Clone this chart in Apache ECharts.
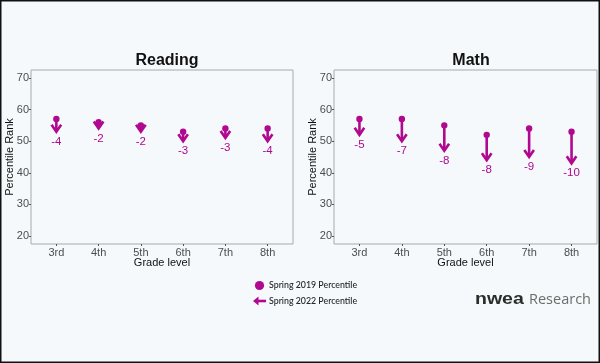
<!DOCTYPE html>
<html>
<head>
<meta charset="utf-8">
<script src="https://cdn.jsdelivr.net/npm/echarts@6/dist/echarts.min.js"></script>
<style>
html,body{margin:0;padding:0;background:#f5f9fc;}
#c{width:600px;height:363px;}
</style>
</head>
<body>
<div id="c"></div>
<script>
const grades = ['3rd','4th','5th','6th','7th','8th'];
const readingSpring2019 = [57,56,55,53,54,54];
const readingSpring2022 = [53,54,53,50,51,50];
const mathSpring2019 = [57,57,55,52,54,53];
const mathSpring2022 = [52,50,47,44,45,43];
const yTicks = [20,30,40,50,60,70];
const panelTitles = ['Reading','Math'];

const MAG = '#b0088e';
const FONT = '"Liberation Sans", Arial, sans-serif';

function buildData(a, b){
  return grades.map((g,i)=>[i+1, a[i], b[i]]);
}

function renderItem(params, api){
  const x = api.value(0), y1 = api.value(1), y2 = api.value(2);
  const p1 = api.coord([x,y1]);
  const p2 = api.coord([x,y2]);
  const diff = Math.round(y2 - y1);
  const style = {stroke: MAG, lineWidth: 2.6, fill: null, lineCap:'butt', lineJoin:'miter'};
  return {
    type:'group',
    children:[
      {type:'line', shape:{x1:p1[0], y1:p1[1], x2:p2[0], y2:p2[1]-1}, style: style},
      {type:'polyline', shape:{points:[[p2[0]-4.8,p2[1]-7],[p2[0],p2[1]],[p2[0]+4.8,p2[1]-7]]}, style: style},
      {type:'circle', shape:{cx:p1[0], cy:p1[1], r:3.2}, style:{fill:MAG}},
      {type:'text', x:p2[0], y:p2[1]+10, style:{text:String(diff), fill:MAG, font:'11.5px '+FONT, align:'center', verticalAlign:'middle'}}
    ]
  };
}

function xAxisCfg(gi){
  return {
    type:'value', gridIndex:gi, min:0.4, max:6.6,
    name:'Grade level', nameLocation:'middle', nameGap:13.5, nameMoveOverlap:false,
    nameTextStyle:{color:'#111', fontSize:11, fontFamily:FONT},
    axisLine:{show:false}, splitLine:{show:false},
    axisTick:{show:true, length:2, lineStyle:{color:'#555'}, customValues:[1,2,3,4,5,6]},
    axisLabel:{color:'#4d4d4d', fontSize:11, fontFamily:FONT, margin:3,
      customValues:[1,2,3,4,5,6], formatter:v=>grades[Math.round(v)-1]}
  };
}
function yAxisCfg(gi){
  return {
    type:'value', gridIndex:gi, min:17.5, max:72.5,
    name:'Percentile Rank', nameLocation:'middle', nameGap:21, nameRotate:90, nameMoveOverlap:false,
    nameTextStyle:{color:'#111', fontSize:11, fontFamily:FONT, verticalAlign:'middle'},
    axisLine:{show:false}, splitLine:{show:false},
    axisTick:{show:true, length:2, lineStyle:{color:'#555'}, customValues:yTicks},
    axisLabel:{color:'#4d4d4d', fontSize:11, fontFamily:FONT, margin:2, customValues:yTicks}
  };
}

const chart = echarts.init(document.getElementById('c'), null, {renderer:'canvas'});
chart.setOption({
  backgroundColor:'#f5f9fc',
  animation:false,
  title:[
    {text:panelTitles[0], left:162, top:48, textAlign:'center', textStyle:{fontSize:16, fontWeight:'bold', color:'#111', fontFamily:FONT}},
    {text:panelTitles[1], left:466, top:48, textAlign:'center', textStyle:{fontSize:16, fontWeight:'bold', color:'#111', fontFamily:FONT}}
  ],
  grid:[
    {left:31, top:70, width:262, height:174, show:true, borderColor:'#a8a8a8', borderWidth:1, backgroundColor:'transparent'},
    {left:334, top:70, width:263, height:174, show:true, borderColor:'#a8a8a8', borderWidth:1, backgroundColor:'transparent'}
  ],
  xAxis:[xAxisCfg(0), xAxisCfg(1)],
  yAxis:[yAxisCfg(0), yAxisCfg(1)],
  series:[
    {type:'custom', name:'Reading', xAxisIndex:0, yAxisIndex:0, data:buildData(readingSpring2019, readingSpring2022), renderItem:renderItem, clip:false},
    {type:'custom', name:'Math', xAxisIndex:1, yAxisIndex:1, data:buildData(mathSpring2019, mathSpring2022), renderItem:renderItem, clip:false}
  ],
  graphic:[
    {type:'circle', shape:{cx:259.5, cy:285.5, r:4.6}, style:{fill:MAG}},
    {type:'text', x:269, y:285.5, style:{text:'Spring 2019 Percentile', fill:'#222', font:'500 8.8px Lato, "Liberation Sans", sans-serif', verticalAlign:'middle'}},
    {type:'line', shape:{x1:256, y1:301, x2:266, y2:301}, style:{stroke:MAG, lineWidth:2.6}},
    {type:'polygon', shape:{points:[[253,301],[258.5,296.5],[258.5,305.5]]}, style:{fill:MAG}},
    {type:'text', x:269, y:301, style:{text:'Spring 2022 Percentile', fill:'#222', font:'500 8.8px Lato, "Liberation Sans", sans-serif', verticalAlign:'middle'}},
    {type:'text', x:475, y:300, scaleX:1.22, style:{text:'nwea', fill:'#2a2e2b', font:'bold 16px "Liberation Sans", Arial, sans-serif', verticalAlign:'middle'}},
    {type:'text', x:529, y:300, style:{text:'Research', fill:'#6a6e6b', font:'14.5px "Open Sans", sans-serif', verticalAlign:'middle'}},
    {type:'rect', shape:{x:0.75, y:0.75, width:598.5, height:361.5}, style:{fill:null, stroke:'#111', lineWidth:1.5}, z:100}
  ]
});
</script>
</body>
</html>
